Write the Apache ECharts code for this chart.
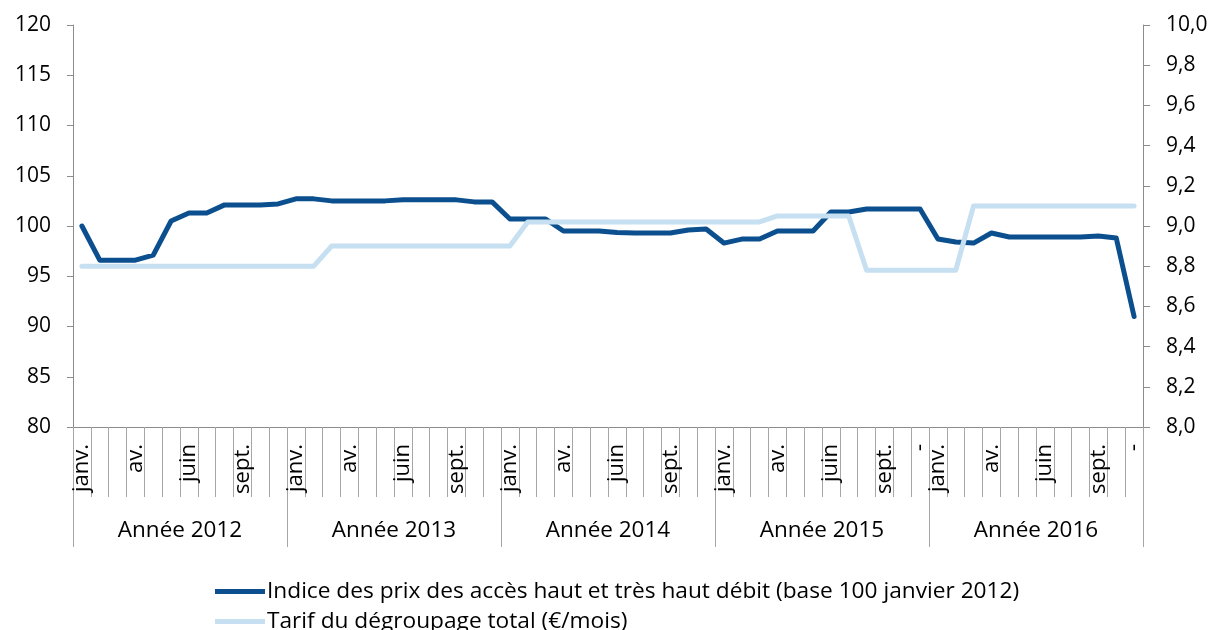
<!DOCTYPE html>
<html>
<head>
<meta charset="utf-8">
<script src="https://cdn.jsdelivr.net/npm/echarts@6/dist/echarts.min.js"></script>
<style>
html,body{margin:0;padding:0;background:#fff;}
#chart{width:1215px;height:630px;}
</style>
</head>
<body>
<div id="chart"></div>
<script>
// ---- data ----
var years = ['Année 2012', 'Année 2013', 'Année 2014', 'Année 2015', 'Année 2016'];
var monthLabels = [
  'janv.', '', '', 'av.', '', '', 'juin', '', '', 'sept.', '', '',
  'janv.', '', '', 'av.', '', '', 'juin', '', '', 'sept.', '', '',
  'janv.', '', '', 'av.', '', '', 'juin', '', '', 'sept.', '', '',
  'janv.', '', '', 'av.', '', '', 'juin', '', '', 'sept.', '', '-',
  'janv.', '', '', 'av.', '', '', 'juin', '', '', 'sept.', '', '-'
];
var indicePrix = [
  100.0, 96.6, 96.6, 96.6, 97.1, 100.5, 101.3, 101.3, 102.1, 102.1, 102.1, 102.2,
  102.7, 102.7, 102.5, 102.5, 102.5, 102.5, 102.6, 102.6, 102.6, 102.6, 102.4, 102.4,
  100.7, 100.7, 100.7, 99.5, 99.5, 99.5, 99.35, 99.3, 99.3, 99.3, 99.6, 99.7,
  98.3, 98.7, 98.7, 99.5, 99.5, 99.5, 101.4, 101.4, 101.7, 101.7, 101.7, 101.7,
  98.7, 98.4, 98.3, 99.3, 98.9, 98.9, 98.9, 98.9, 98.9, 99.0, 98.8, 91.0
];
var tarifDegroupage = [
  8.8, 8.8, 8.8, 8.8, 8.8, 8.8, 8.8, 8.8, 8.8, 8.8, 8.8, 8.8,
  8.8, 8.8, 8.9, 8.9, 8.9, 8.9, 8.9, 8.9, 8.9, 8.9, 8.9, 8.9,
  8.9, 9.02, 9.02, 9.02, 9.02, 9.02, 9.02, 9.02, 9.02, 9.02, 9.02, 9.02,
  9.02, 9.02, 9.02, 9.05, 9.05, 9.05, 9.05, 9.05, 8.78, 8.78, 8.78, 8.78,
  8.78, 8.78, 9.1, 9.1, 9.1, 9.1, 9.1, 9.1, 9.1, 9.1, 9.1, 9.1
];
var seriesNames = [
  'Indice des prix des accès haut et très haut débit (base 100 janvier 2012)',
  'Tarif du dégroupage total (€/mois)'
];

var FONT = '"Open Sans", sans-serif';
var monthIdx = monthLabels.map(function (_, i) { return String(i); });

function legendFor(name, top) {
  return {
    left: 210, top: top, orient: 'horizontal',
    itemWidth: 50, itemHeight: 5, itemGap: 0, icon: 'rect',
    textStyle: {fontSize: 22.7, color: '#000', fontFamily: FONT, padding: [0, 0, 0, -3]},
    data: [name]
  };
}

var chart = echarts.init(document.getElementById('chart'), null, {renderer: 'canvas'});
chart.setOption({
  animation: false,
  textStyle: {fontFamily: FONT},
  grid: {left: 73, right: 72, top: 25, bottom: 203, containLabel: false},
  legend: [legendFor(seriesNames[0], 575), legendFor(seriesNames[1], 605)],
  xAxis: [{
    type: 'category', data: monthIdx, boundaryGap: true, position: 'bottom',
    axisLine: {lineStyle: {color: '#8C8C8C', width: 1}},
    axisTick: {show: true, interval: 0, length: 70, lineStyle: {color: '#A6A6A6'}},
    axisLabel: {interval: 0, rotate: 90, margin: 17, fontSize: 22, color: '#000', fontFamily: FONT,
      formatter: function (v, i) { return monthLabels[i]; }},
    splitLine: {show: false}
  }, {
    type: 'category', data: years, boundaryGap: true, position: 'bottom', offset: 70,
    axisLine: {show: false},
    axisTick: {show: true, interval: 0, length: 50, lineStyle: {color: '#A6A6A6'}},
    axisLabel: {interval: 0, margin: 22, fontSize: 22.5, color: '#000', fontFamily: FONT},
    splitLine: {show: false}
  }],
  yAxis: [{
    type: 'value', min: 80, max: 120, interval: 5, position: 'left',
    axisLine: {show: true, lineStyle: {color: '#8C8C8C'}},
    axisTick: {show: true, length: 6, lineStyle: {color: '#8C8C8C'}},
    axisLabel: {margin: 22, fontSize: 21, color: '#000', fontFamily: FONT},
    splitLine: {show: false}
  }, {
    type: 'value', min: 8, max: 10, interval: 0.2, position: 'right',
    axisLine: {show: true, lineStyle: {color: '#8C8C8C'}},
    axisTick: {show: true, length: 7, lineStyle: {color: '#8C8C8C'}},
    axisLabel: {margin: 23, fontSize: 21, color: '#000', fontFamily: FONT,
      formatter: function (v) { return v.toFixed(1).replace('.', ','); }},
    splitLine: {show: false}
  }],
  series: [{
    name: seriesNames[0], type: 'line', xAxisIndex: 0, yAxisIndex: 0,
    data: indicePrix, showSymbol: false, symbol: 'none',
    lineStyle: {width: 5, color: '#0B4F8F', cap: 'round', join: 'round'},
    itemStyle: {color: '#0B4F8F'}
  }, {
    name: seriesNames[1], type: 'line', xAxisIndex: 0, yAxisIndex: 1,
    data: tarifDegroupage, showSymbol: false, symbol: 'none',
    lineStyle: {width: 5, color: '#C6DFF1', cap: 'round', join: 'round'},
    itemStyle: {color: '#C6DFF1'}
  }]
});
</script>
</body>
</html>
